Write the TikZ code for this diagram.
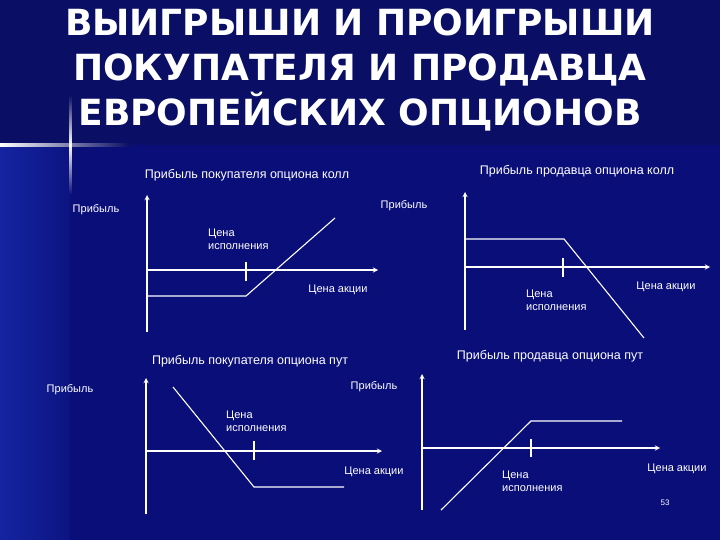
\documentclass[tikz,border=0pt]{standalone}
\usepackage{fontspec}
\setmainfont{Liberation Sans}
\newfontfamily\titlefont{DejaVu Sans}
\definecolor{bgmain}{RGB}{10,14,120}
\definecolor{bgtop}{RGB}{10,14,100}
\definecolor{bgleftA}{RGB}{20,36,160}
\definecolor{bgleftB}{RGB}{12,20,130}
\begin{document}
\begin{tikzpicture}[x=1pt,y=-1pt,
  lbl/.style={text=white,font=\fontsize{11}{12.5}\selectfont,inner sep=0pt,align=left},
  ttl/.style={text=white,font=\fontsize{12.5}{13}\selectfont,inner sep=0pt},
  axis/.style={white,line width=1.8pt},
  arr/.style={white,line width=1.3pt,-stealth},
  pay/.style={white,line width=1.1pt}]
\useasboundingbox (0,0) rectangle (720,540);
\fill[bgtop] (0,0) rectangle (720,145);
\fill[bgmain] (0,145) rectangle (720,540);
\shade[left color=bgleftA,right color=bgleftB] (0,145) rectangle (70,540);
\shade[left color=white,right color=bgtop] (0,144) rectangle (130,146.5);
\shade[top color=bgtop,bottom color=white] (69,95) rectangle (71.5,145);
\shade[top color=white,bottom color=bgmain] (69,145) rectangle (71.5,195);
\node[text=white,font=\titlefont\bfseries\fontsize{36}{45}\selectfont,align=center] (title) at (360,70) {ВЫИГРЫШИ И ПРОИГРЫШИ\\ПОКУПАТЕЛЯ И ПРОДАВЦА\\ЕВРОПЕЙСКИХ ОПЦИОНОВ};
% chart 1
\node[ttl] (t1) at (247,175) {Прибыль покупателя опциона колл};
\node[lbl] (p1) at (96,210) {Прибыль};
\node[lbl,anchor=north west] (k1) at (208,229) {Цена\\исполнения};
\node[lbl] (s1) at (338,290) {Цена акции};
\coordinate (o1) at (147,270); \coordinate (yb1) at (147,332); \coordinate (yt1) at (147,195);
\coordinate (xe1) at (378,270); \coordinate (a1) at (147,296); \coordinate (b1) at (246,296); \coordinate (c1) at (335,218);
\draw[axis] (yb1) -- (o1);\draw[arr] (o1) -- (yt1);
\draw[arr] (o1) -- (xe1);
\draw[pay] (246,262) -- (246,281);
\draw[pay] (a1) -- (b1) -- (c1);
% chart 2
\node[ttl] (t2) at (577,171) {Прибыль продавца опциона колл};
\node[lbl] (p2) at (404,206) {Прибыль};
\node[lbl,anchor=north west] (k2) at (526,290) {Цена\\исполнения};
\node[lbl] (s2) at (666,287) {Цена акции};
\coordinate (o2) at (465,267); \coordinate (yb2) at (465,330); \coordinate (yt2) at (465,192);
\coordinate (xe2) at (710,267); \coordinate (a2) at (465,239); \coordinate (b2) at (564,239); \coordinate (c2) at (644,338);
\draw[axis] (yb2) -- (o2);\draw[arr] (o2) -- (yt2);
\draw[arr] (o2) -- (xe2);
\draw[pay] (563,258) -- (563,277);
\draw[pay] (a2) -- (b2) -- (c2);
% chart 3
\node[ttl] (t3) at (250,361) {Прибыль покупателя опциона пут};
\node[lbl] (p3) at (70,390) {Прибыль};
\node[lbl] (p3b) at (374,387) {Прибыль};
\node[lbl,anchor=north west] (k3) at (226,411) {Цена\\исполнения};
\node[lbl] (s3) at (374,472) {Цена акции};
\coordinate (o3) at (146,451); \coordinate (yb3) at (146,514); \coordinate (yt3) at (146,378);
\coordinate (xe3) at (382,451); \coordinate (a3) at (173,387); \coordinate (b3) at (254,487); \coordinate (c3) at (344,487);
\draw[axis] (yb3) -- (o3);\draw[arr] (o3) -- (yt3);
\draw[arr] (o3) -- (xe3);
\draw[pay] (254,441) -- (254,460);
\draw[pay] (a3) -- (b3) -- (c3);
% chart 4
\node[ttl] (t4) at (550,356) {Прибыль продавца опциона пут};
\node[lbl,anchor=north west] (k4) at (502,471) {Цена\\исполнения};
\node[lbl] (s4) at (677,469) {Цена акции};
\node[text=white,font=\fontsize{8}{9}\selectfont,inner sep=0pt] (n) at (665,503) {53};
\coordinate (o4) at (422,448); \coordinate (yb4) at (422,510); \coordinate (yt4) at (422,374);
\coordinate (xe4) at (660,448); \coordinate (a4) at (441,510); \coordinate (b4) at (531,421); \coordinate (c4) at (622,421);
\draw[axis] (yb4) -- (o4);\draw[arr] (o4) -- (yt4);
\draw[arr] (o4) -- (xe4);
\draw[pay] (531,439) -- (531,457);
\draw[pay] (a4) -- (b4) -- (c4);
\end{tikzpicture}
\end{document}
